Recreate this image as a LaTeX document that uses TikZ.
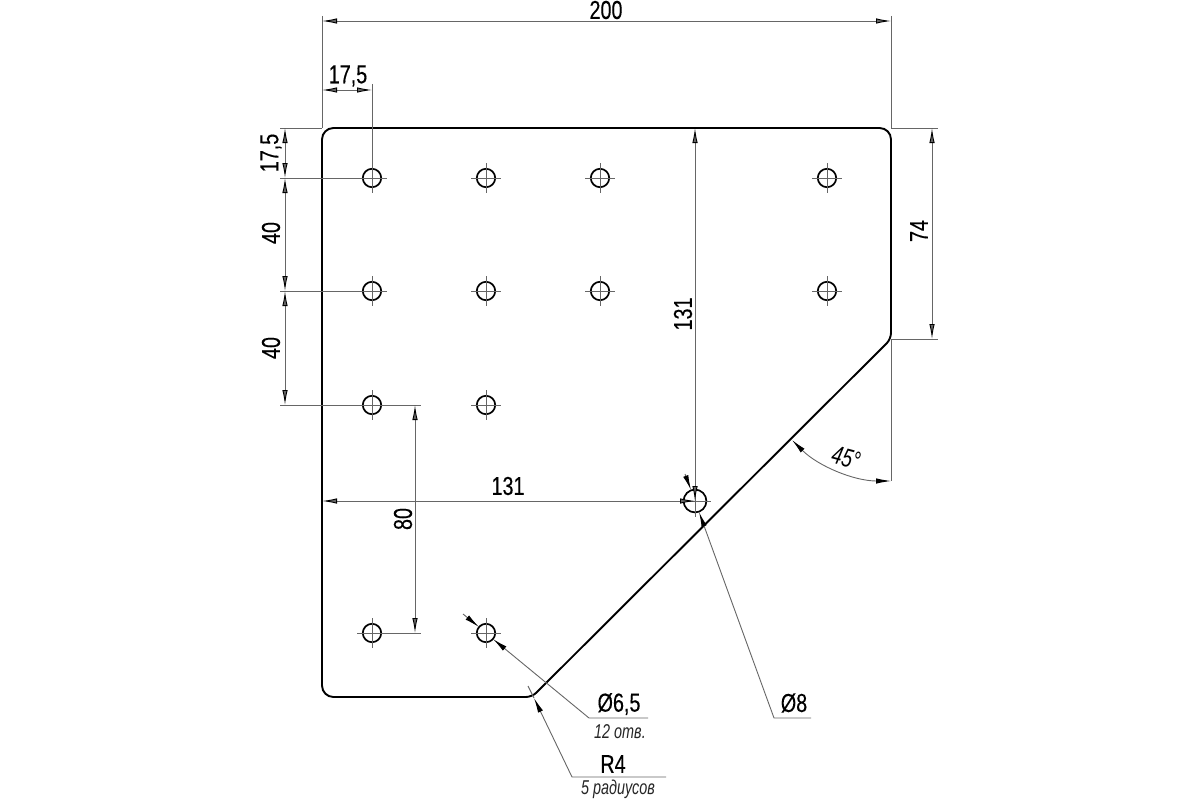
\documentclass[tikz,border=0pt]{standalone}
\usepackage{fontspec}
\usetikzlibrary{arrows.meta}
\newfontfamily\dimfont[FakeStretch=0.76,FakeBold=0.25]{Liberation Sans}
\newfontfamily\notefont[FakeStretch=0.72]{Liberation Sans Italic}
\tikzset{
plate/.style={line width=1.9pt,line join=round},
hole/.style={circle,draw,line width=1.7pt,inner sep=0pt,outer sep=0pt,minimum size=18.4pt},
bighole/.style={hole,minimum size=22.8pt},
thinline/.style={line width=0.9pt,black!60},
dimline/.style={thinline,<->},
leader/.style={thinline,->},
dimtext/.style={font=\dimfont\fontsize{26}{30}\selectfont,inner sep=0pt},
notetext/.style={font=\notefont\fontsize{20}{24}\selectfont,inner sep=0pt,text=black!85},
>={Latex[length=15pt,width=5.4pt,color=black]}
}
\begin{document}
\begin{tikzpicture}[x=1pt,y=-1pt]
\useasboundingbox (0,0) rectangle (1200,800);
\coordinate (p1) at (322,128);
\coordinate (p2) at (891,128);
\coordinate (p3) at (891,339);
\coordinate (p4) at (532,697);
\coordinate (p5) at (322,697);
\draw[plate] (322,400) [rounded corners=11.4pt] -- (p1) -- (p2) [rounded corners=6pt] -- (p3) -- (p4) [rounded corners=11.4pt] -- (p5) [sharp corners] -- cycle;
\foreach \name/\x/\y in {a1/372/178,a2/486/178,a3/600/178,a4/827/178,
b1/372/291,b2/486/291,b3/600/291,b4/827/291,c1/372/405,c2/486/405,d1/372/633,d2/486/633}{
\node[hole] (\name) at (\x,\y) {};
\draw[thinline] (\x-15,\y) -- (\x+15,\y) (\x,\y-15) -- (\x,\y+15);
}
\node[bighole] (e) at (695,501) {};
\draw[thinline] (680,501) -- (711,501) (695,486) -- (695,517);
\coordinate (t1) at (322,16);
\coordinate (t2) at (891,16);
\coordinate (u1) at (322,21);
\coordinate (u2) at (891,21);
\coordinate (v1) at (322,90);
\coordinate (v2) at (372,90);
\coordinate (v3) at (372,84);
\coordinate (l0) at (280,128);
\coordinate (l1) at (280,178);
\coordinate (l2) at (280,291);
\coordinate (l3) at (280,405);
\coordinate (m0) at (285,128);
\coordinate (m1) at (285,178);
\coordinate (m2) at (285,291);
\coordinate (m3) at (285,405);
\coordinate (n1) at (421,405);
\coordinate (n2) at (421,633);
\coordinate (o1) at (415,405);
\coordinate (o2) at (415,633);
\coordinate (r0) at (938,128);
\coordinate (r1) at (938,339);
\coordinate (s0) at (932,128);
\coordinate (s1) at (932,339);
\coordinate (w0) at (695,128);
\coordinate (w1) at (322,501);
\coordinate (q1) at (891,481);
\coordinate (q2) at (792,440);
\draw[thinline]
(t1) -- (p1)
(t2) -- (p2)
(v3) -- (a1.center)
(l0) -- (p1)
(l1) -- (a1.center)
(l2) -- (b1.center)
(l3) -- (n1)
(d1.center) -- (n2)
(p2) -- (r0)
(p3) -- (r1)
(p3) -- (q1);
\draw[thinline]
(u1) edge[<->] (u2)
(v1) edge[<->] (v2)
(m0) edge[<->] (m1)
(m1) edge[<->] (m2)
(m2) edge[<->] (m3)
(o1) edge[<->] (o2)
(s0) edge[<->] (s1)
(w0) edge[<->] (e.center)
(w1) edge[<->] (e.center);
\draw[dimline] (q2) .. controls (818,466) and (854,481) .. (q1);
\coordinate (f0) at (685,474);
\coordinate (f1) at (691,490);
\coordinate (f2) at (699,512);
\coordinate (f3) at (774,718);
\coordinate (f4) at (811,718);
\draw[leader] (f0) -- (f1);
\draw[leader] (f4) -- (f3) -- (f2);
\coordinate (g0) at (463,614);
\coordinate (g1) at (479,627);
\coordinate (g2) at (493,639);
\coordinate (g3) at (589,718);
\coordinate (g4) at (648,718);
\draw[leader] (g0) -- (g1);
\draw[leader] (g4) -- (g3) -- (g2);
\coordinate (k0) at (528,686);
\coordinate (k1) at (534,698);
\coordinate (k3) at (572,777);
\coordinate (k4) at (666,777);
\draw[thinline] (k0) -- (k1);
\draw[leader] (k4) -- (k3) -- (k1);
\node[dimtext] (d200) at (606,10) {200};
\node[dimtext] (dx175) at (348,76) {17,5};
\node[dimtext,rotate=90] (dy175) at (271,153) {17,5};
\node[dimtext,rotate=90] (dy40a) at (271,233) {40};
\node[dimtext,rotate=90] (dy40b) at (271,348) {40};
\node[dimtext,rotate=90] (dy80) at (403,519) {80};
\node[dimtext,rotate=90] (dy74) at (919,231) {74};
\node[dimtext,rotate=90] (dy131) at (683,314) {131};
\node[dimtext] (dx131) at (508,486) {131};
\node[notetext,font=\notefont\fontsize{26}{30}\selectfont,rotate=-15,text=black] (ang) at (846,458) {45°};
\node[dimtext] (d8) at (794,703) {Ø8};
\node[dimtext] (d65) at (619,704) {Ø6,5};
\node[notetext] (n65) at (620,732) {12 отв.};
\node[dimtext] (r4) at (613,764) {R4};
\node[notetext] (n4) at (618,789) {5 радиусов};
\end{tikzpicture}
\end{document}
